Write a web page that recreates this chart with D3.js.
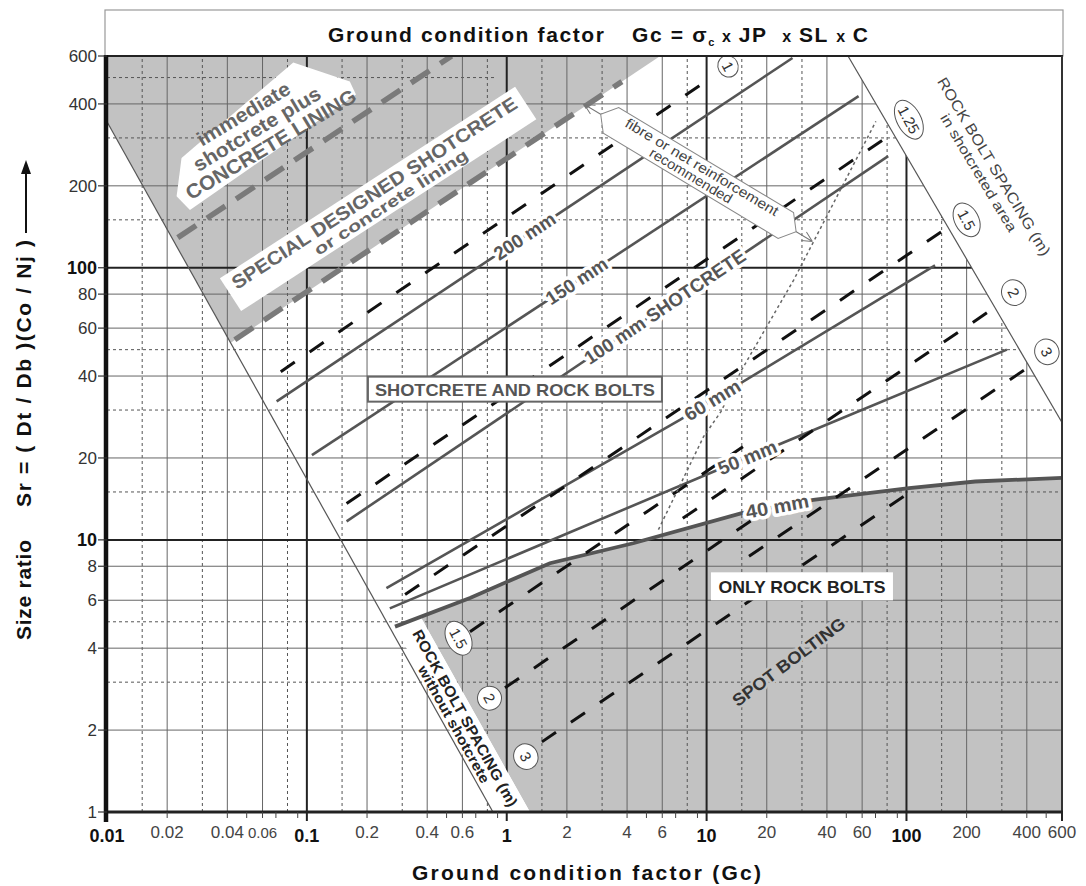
<!DOCTYPE html>
<html>
<head>
<meta charset="utf-8">
<title>Ground condition factor - support chart</title>
<script src="https://cdn.jsdelivr.net/npm/d3@7"></script>
<style>
  body { margin: 0; background: #fff; }
  svg { display: block; font-family: "Liberation Sans", Arial, Helvetica, sans-serif; }
</style>
</head>
<body>
<svg id="chart" width="1086" height="886"></svg>
<script>
// ---- axis ticks and grid (Gc on x, Sr on y) ----
const xTickLabels = [0.01, 0.02, 0.04, 0.06, 0.1, 0.2, 0.4, 0.6, 1, 2, 4, 6, 10, 20, 40, 60, 100, 200, 400, 600];
const yTickLabels = [1, 2, 4, 6, 8, 10, 20, 40, 60, 80, 100, 200, 400, 600];
const xBold = [0.01, 0.1, 1, 10, 100];
const yBold = [10, 100];
const xGridSolid = [0.02, 0.04, 0.06, 0.2, 0.4, 0.6, 2, 4, 6, 20, 40, 60, 200, 400];
const xGridMajor = [0.1, 1, 10, 100];
const xGridDashed = [0.015, 0.03, 0.08, 0.15, 0.3, 0.8, 1.5, 3, 8, 15, 30, 80, 150, 300];
const xMinorTicks = [0.05, 0.07, 0.09, 0.5, 0.7, 0.9, 5, 7, 9, 50, 70, 90, 500];
const yGridSolid = [2, 4, 6, 8, 20, 40, 60, 80, 200, 400];
const yGridMajor = [10, 100];
const yGridDashed = [3, 5, 15, 30, 50, 150, 300];
const yGridDashedShort = [500];

// ---- zone boundaries [Gc, Sr] ----
const shotBoundary  = [[0.01, 344], [0.853, 1]];
const boltEdge      = [[0.371, 5.21], [1.306, 1]];
const upperBoundary = [[51, 600], [600, 27]];
const liningEdge    = [[5.86, 600], [0.0416, 53]];
const immediateBox  = [[0.0223, 183], [0.0236, 253], [0.0855, 568], [0.164, 484], [0.176, 433], [0.026, 163]];

// ---- concrete lining limits (grey dashed) ----
const liningUpper = [[0.0226, 129], [0.53, 600]];
const liningLower = [[0.0436, 54.4], [3.77, 483]];

// ---- shotcrete thickness lines ----
const shot200 = [[0.0706, 32.3], [26.9, 590]];
const shot150 = [[0.106, 20.5], [57.6, 427]];
const shot100 = [[0.158, 11.7], [81, 257]];
const shot60  = [[0.25, 6.65], [7.35, 27.6], [139, 102]];
const shot50  = [[0.26, 5.6], [10.8, 17.8], [318, 50]];
const shot40  = [[0.276, 4.8], [0.655, 6.12], [1.645, 8.21], [4.29, 9.72], [15, 12.54], [34.2, 14.03], [103, 15.49], [221, 16.39], [600, 16.9]];

// ---- rock bolt spacing lines (black dashed) ----
const bolt1    = [[0.074, 41.5], [9.7, 479]];
const bolt125  = [[0.158, 13.6], [87.5, 316]];
const bolt15   = [[0.31, 6.3], [155, 138]];
const bolt2    = [[7.6, 12], [258, 69]];
const bolt3    = [[16.3, 8.7], [405, 43]];
const boltFree15 = [[0.655, 4.6], [15.2, 22]];
const boltFree2  = [[0.98, 2.86], [20.7, 13.1]];
const boltFree3  = [[1.5, 1.81], [106, 15.1]];

// ---- fibre / net reinforcement limit (dotted) ----
const fibreLimit = [[5.74, 10.9], [9.67, 24], [11.8, 29.6], [15, 42.2], [27.3, 90.3], [70.3, 345]];

// ---- spacing marks ----
const spacingMarks = [
  { text: '1',    at: [12.8, 550],  rx: 11, ry: 10 },
  { text: '1.25', at: [102.8, 350], rx: 21, ry: 12 },
  { text: '1.5',  at: [200, 150],   rx: 18, ry: 12 },
  { text: '2',    at: [344, 81],    rx: 13, ry: 12 },
  { text: '3',    at: [504, 49.1],  rx: 13, ry: 12 },
  { text: '1.5',  at: [0.574, 4.35], rx: 18, ry: 12 },
  { text: '2',    at: [0.82, 2.62],  rx: 12, ry: 12 },
  { text: '3',    at: [1.246, 1.597], rx: 13, ry: 12 }
];

const svg = d3.select('#chart');
svg.append('rect').attr('width', 1086).attr('height', 886).attr('fill', '#fff');

const x = d3.scaleLog().domain([0.01, 600]).range([107, 1062]);
const y = d3.scaleLog().domain([1, 600]).range([812, 56]);
const path = d3.line().x(d => x(d[0])).y(d => y(d[1]));
const closed = d => path(d) + 'Z';
const GRAY = '#c2c2c2';

svg.append('defs').append('clipPath').attr('id', 'plotClip')
  .append('path')
  .attr('d', closed([[0.01, 600], upperBoundary[0], upperBoundary[1], [600, 1], [0.01, 1]]));

// zones
const zones = svg.append('g');
zones.append('path')
  .attr('d', closed([[0.01, 600], liningEdge[0], liningEdge[1], shotBoundary[0]]))
  .attr('fill', GRAY);
zones.append('path')
  .attr('d', closed([boltEdge[0], ...shot40.slice(1), [600, 1], boltEdge[1]]))
  .attr('fill', GRAY);

// grid
const grid = svg.append('g').attr('clip-path', 'url(#plotClip)');
function vLines(vals, stroke, width, dash) {
  grid.selectAll(null).data(vals).join('line')
    .attr('x1', d => x(d)).attr('x2', d => x(d))
    .attr('y1', y(1)).attr('y2', y(600))
    .attr('stroke', stroke).attr('stroke-width', width)
    .attr('stroke-dasharray', dash);
}
function hLines(vals, stroke, width, dash, xMax) {
  grid.selectAll(null).data(vals).join('line')
    .attr('x1', x(0.01)).attr('x2', x(xMax || 600))
    .attr('y1', d => y(d)).attr('y2', d => y(d))
    .attr('stroke', stroke).attr('stroke-width', width)
    .attr('stroke-dasharray', dash);
}
vLines(xGridDashed, '#555', 1, '3,3');
hLines(yGridDashed, '#555', 1, '3,3');
hLines(yGridDashedShort, '#555', 1, '3,3', 0.87);
vLines(xGridSolid, '#666', 1, null);
hLines(yGridSolid, '#666', 1, null);
vLines(xGridMajor, '#222', 2, null);
hLines(yGridMajor, '#222', 2, null);

// white band for the "without shotcrete" spacing text
svg.append('path')
  .attr('d', closed([shot40[0], boltEdge[0], boltEdge[1], shotBoundary[1]]))
  .attr('fill', '#fff');

// zone boundary lines
svg.append('path').attr('d', path(shotBoundary)).attr('stroke', '#555').attr('stroke-width', 1.2).attr('fill', 'none');
svg.append('path').attr('d', path(upperBoundary)).attr('stroke', '#555').attr('stroke-width', 1.2).attr('fill', 'none');

// white label shape in the lining zone
svg.append('path').attr('d', closed(immediateBox)).attr('fill', '#fff');

// concrete lining limits
[liningUpper, liningLower].forEach(d => {
  svg.append('path').attr('d', path(d)).attr('fill', 'none')
    .attr('stroke', '#7a7a7a').attr('stroke-width', 5.5).attr('stroke-dasharray', '22,13');
});

// shotcrete lines
[shot200, shot150, shot100, shot60, shot50].forEach(d => {
  svg.append('path').attr('d', path(d)).attr('fill', 'none')
    .attr('stroke', '#555').attr('stroke-width', 2.6);
});
svg.append('path').attr('d', path(shot40)).attr('fill', 'none')
  .attr('stroke', '#555').attr('stroke-width', 3.8);

// bolt spacing lines
[bolt1, bolt125, bolt15, bolt2, bolt3, boltFree15, boltFree2, boltFree3].forEach(d => {
  svg.append('path').attr('d', path(d)).attr('fill', 'none')
    .attr('stroke', '#111').attr('stroke-width', 3).attr('stroke-dasharray', '17,18');
});

// fibre limit
svg.append('path').attr('d', path(fibreLimit)).attr('fill', 'none')
  .attr('stroke', '#666').attr('stroke-width', 1.5).attr('stroke-dasharray', '3,3');

// ---- text helpers ----
function group(at, ang) {
  return svg.append('g').attr('transform', `translate(${x(at[0])},${y(at[1])}) rotate(${ang})`);
}
function txt(g, s, o) {
  const t = g.append('text')
    .attr('x', o.dx || 0).attr('y', o.dy || 0)
    .attr('text-anchor', o.anchor || 'middle')
    .attr('font-size', o.size).attr('font-weight', o.weight || 'bold')
    .attr('fill', o.fill || '#555')
    .text(s);
  if (o.len) t.attr('textLength', o.len).attr('lengthAdjust', 'spacingAndGlyphs');
  if (o.halo) t.attr('stroke', o.halo).attr('stroke-width', o.haloW || 6).attr('paint-order', 'stroke').attr('stroke-linejoin', 'round');
  if (o.central) t.attr('dominant-baseline', 'central');
  return t;
}
function alongLine(pts, gc) {
  const lg = Math.log10(gc);
  for (let i = 0; i < pts.length - 1; i++) {
    const a = pts[i], b = pts[i + 1];
    const la = Math.log10(a[0]), lb = Math.log10(b[0]);
    if (lg >= la && lg <= lb) {
      const t = (lg - la) / (lb - la);
      const sr = Math.pow(10, Math.log10(a[1]) + t * (Math.log10(b[1]) - Math.log10(a[1])));
      const ang = Math.atan2(y(b[1]) - y(a[1]), x(b[0]) - x(a[0])) * 180 / Math.PI;
      return { at: [gc, sr], ang };
    }
  }
}

// lining labels
const gi = group([0.0502, 350], -31);
txt(gi, 'immediate', { size: 20, len: 105, fill: '#666' });
const gs = group([0.0586, 308], -31);
txt(gs, 'shotcrete plus', { size: 20, len: 145, fill: '#666' });
const gc = group([0.0688, 270], -31);
txt(gc, 'CONCRETE LINING', { size: 20, len: 195, fill: '#666' });

const gsp = group([0.2265, 179.8], -33);
gsp.append('rect').attr('x', -176).attr('y', -19).attr('width', 352).attr('height', 39).attr('fill', '#fff');
txt(gsp, 'SPECIAL DESIGNED SHOTCRETE', { size: 19, len: 336, fill: '#666', dy: 0 });
txt(gsp, 'or concrete lining', { size: 16, len: 180, fill: '#666', dx: 9, dy: 16 });

// thickness labels on lines
[
  { pts: shot200, gc: 1.23, text: '200 mm', len: 70 },
  { pts: shot150, gc: 2.24, text: '150 mm', len: 70 },
  { pts: shot100, gc: 6.18, text: '100 mm SHOTCRETE', len: 190 },
  { pts: shot60, gc: 10.7, text: '60 mm', len: 62 },
  { pts: shot50, gc: 16.0, text: '50 mm', len: 62 },
  { pts: shot40, gc: 22.6, text: '40 mm', len: 64 }
].forEach(l => {
  const p = alongLine(l.pts, l.gc);
  const g = group(p.at, p.ang);
  txt(g, l.text, { size: 19, len: l.len, fill: '#555', halo: '#fff', haloW: 7, central: true });
});

// fibre reinforcement arrow box
const gf = group([9.1, 223], 31);
gf.append('path').attr('d', 'M-133,0H133M-133,0l10,-5M-133,0l10,5M133,0l-10,-5M133,0l-10,5')
  .attr('stroke', '#777').attr('stroke-width', 1).attr('fill', 'none');
gf.append('path').attr('d', 'M-114,0L-102,-15H102L114,0L102,15H-102Z')
  .attr('fill', '#fff').attr('stroke', '#888').attr('stroke-width', 1);
txt(gf, 'fibre or net reinforcement', { size: 14, weight: 'normal', len: 176, fill: '#444', dy: -2 });
txt(gf, 'recommended', { size: 14, weight: 'normal', len: 94, fill: '#444', dx: -5, dy: 11 });

// zone boxes
const gb = group([1.099, 35.8], 0);
gb.append('rect').attr('x', -147).attr('y', -12.5).attr('width', 294).attr('height', 25)
  .attr('fill', '#fff').attr('stroke', '#666').attr('stroke-width', 2);
txt(gb, 'SHOTCRETE  AND  ROCK BOLTS', { size: 17, len: 280, fill: '#555', central: true, dy: 1 });

const go = group([30, 6.75], 0);
go.append('rect').attr('x', -91).attr('y', -14).attr('width', 182).attr('height', 28).attr('fill', '#fff');
txt(go, 'ONLY ROCK BOLTS', { size: 17, len: 167, fill: '#222', central: true, dy: 1 });

const gsb = group([25.8, 3.55], -36.7);
txt(gsb, 'SPOT BOLTING', { size: 17, len: 136, fill: '#333', central: true, halo: GRAY, haloW: 5 });

// spacing band texts
const gl1 = group([0.621, 2.216], 60.9);
txt(gl1, 'ROCK BOLT SPACING  (m)', { size: 15, len: 200, fill: '#222', central: true });
const gl2 = group([0.545, 2.10], 60.9);
txt(gl2, 'without shotcrete', { size: 14, len: 132, fill: '#222', central: true });
const gu1 = group([275, 235.8], 59);
txt(gu1, 'ROCK BOLT SPACING  (m)', { size: 15, len: 205, fill: '#444', central: true, weight: 'normal' });
const gu2 = group([230, 223.5], 59);
txt(gu2, 'in shotcreted area', { size: 14, len: 135, fill: '#444', central: true, weight: 'normal' });

// spacing marks
spacingMarks.forEach(m => {
  const g = group(m.at, 62);
  g.append('ellipse').attr('rx', m.rx).attr('ry', m.ry).attr('fill', '#fff').attr('stroke', '#555').attr('stroke-width', 1);
  txt(g, m.text, { size: 15, weight: 'normal', fill: '#333', central: true });
});

// ---- frame and axes ----
svg.append('rect').attr('x', 105).attr('y', 10).attr('width', 958).attr('height', 46)
  .attr('fill', '#fff').attr('stroke', '#999').attr('stroke-width', 1.2);
svg.append('line').attr('x1', 105).attr('x2', 1063).attr('y1', y(600)).attr('y2', y(600)).attr('stroke', '#222').attr('stroke-width', 2);
svg.append('line').attr('x1', x(600)).attr('x2', x(600)).attr('y1', y(600)).attr('y2', y(1)).attr('stroke', '#333').attr('stroke-width', 2);
svg.append('line').attr('x1', 104).attr('x2', 1063).attr('y1', y(1)).attr('y2', y(1)).attr('stroke', '#222').attr('stroke-width', 3);
svg.append('line').attr('x1', x(0.01) - 1).attr('x2', x(0.01) - 1).attr('y1', y(600) - 1).attr('y2', y(1) + 10).attr('stroke', '#111').attr('stroke-width', 4.5);

const ticks = svg.append('g');
ticks.selectAll(null).data(xGridSolid.concat(xMinorTicks)).join('line')
  .attr('x1', d => x(d)).attr('x2', d => x(d)).attr('y1', y(1)).attr('y2', y(1) + 6)
  .attr('stroke', '#444').attr('stroke-width', 1);
ticks.selectAll(null).data(xGridMajor.concat([600])).join('line')
  .attr('x1', d => x(d)).attr('x2', d => x(d)).attr('y1', y(1)).attr('y2', y(1) + 9)
  .attr('stroke', '#222').attr('stroke-width', 2);
ticks.selectAll(null).data(yTickLabels).join('line')
  .attr('x1', 98).attr('x2', x(0.01)).attr('y1', d => y(d)).attr('y2', d => y(d))
  .attr('stroke', '#333').attr('stroke-width', 1.2);

const fmt = d => String(d);
ticks.selectAll(null).data(xTickLabels).join('text')
  .attr('x', d => x(d))
  .attr('y', d => xBold.includes(d) ? 842 : 838)
  .attr('text-anchor', 'middle')
  .attr('font-size', d => xBold.includes(d) ? 18 : (d === 0.06 ? 15 : 17))
  .attr('font-weight', d => xBold.includes(d) ? 'bold' : 'normal')
  .attr('fill', d => xBold.includes(d) ? '#111' : '#444')
  .text(fmt);
ticks.selectAll(null).data(yTickLabels).join('text')
  .attr('x', 97)
  .attr('y', d => y(d) + 6)
  .attr('text-anchor', 'end')
  .attr('font-size', d => yBold.includes(d) ? 18 : 17)
  .attr('font-weight', d => yBold.includes(d) ? 'bold' : 'normal')
  .attr('fill', d => yBold.includes(d) ? '#111' : '#333')
  .text(fmt);

// titles
svg.append('text').attr('x', 328).attr('y', 41.5)
  .attr('font-size', 21).attr('font-weight', 'bold').attr('fill', '#111')
  .attr('textLength', 276).attr('lengthAdjust', 'spacing')
  .text('Ground condition factor');
const t2 = svg.append('text').attr('x', 632).attr('y', 41.5)
  .attr('font-size', 21).attr('font-weight', 'bold').attr('fill', '#111')
  .attr('textLength', 236).attr('lengthAdjust', 'spacing')
  .style('white-space', 'pre');
t2.append('tspan').text('Gc = σ');
t2.append('tspan').attr('font-size', 11).attr('dy', 4).text('c');
t2.append('tspan').attr('font-size', 16).attr('dy', -4).text(' x ');
t2.append('tspan').text('JP  ');
t2.append('tspan').attr('font-size', 16).text('x ');
t2.append('tspan').text('SL ');
t2.append('tspan').attr('font-size', 16).text('x ');
t2.append('tspan').text('C');

svg.append('text').attr('x', 586.5).attr('y', 880).attr('text-anchor', 'middle')
  .attr('font-size', 21).attr('font-weight', 'bold').attr('fill', '#111')
  .attr('textLength', 349).attr('lengthAdjust', 'spacing')
  .text('Ground condition factor  (Gc)');

svg.append('text').attr('transform', 'translate(31,590) rotate(-90)').attr('text-anchor', 'middle')
  .attr('font-size', 21).attr('font-weight', 'bold').attr('fill', '#111')
  .attr('textLength', 100).attr('lengthAdjust', 'spacing')
  .text('Size ratio');
svg.append('text').attr('transform', 'translate(31,373.5) rotate(-90)').attr('text-anchor', 'middle')
  .attr('font-size', 21).attr('font-weight', 'bold').attr('fill', '#111')
  .attr('textLength', 267).attr('lengthAdjust', 'spacing')
  .text('Sr = ( Dt / Db )(Co / Nj )');
svg.append('line').attr('x1', 26).attr('x2', 26).attr('y1', 233).attr('y2', 172).attr('stroke', '#111').attr('stroke-width', 2);
svg.append('path').attr('d', 'M26,160L21,174L31,174Z').attr('fill', '#111');
</script>
</body>
</html>
